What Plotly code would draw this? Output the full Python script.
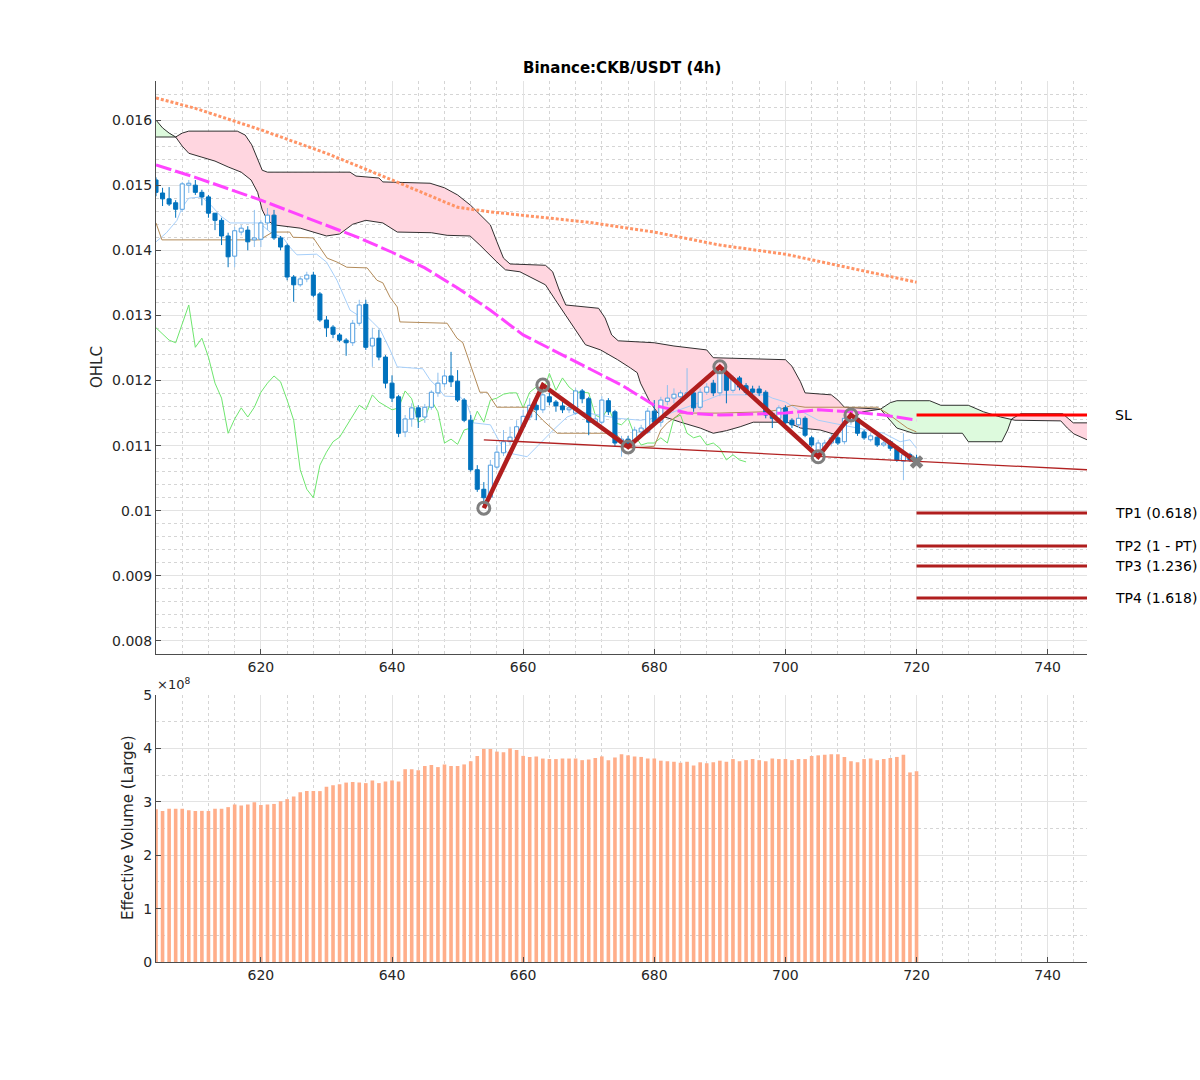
import numpy as np
import plotly.graph_objects as go

# ---------------- data ----------------
bar_x = list(range(604, 721))

opens = [0.01508,0.01488,0.01479,0.01473,0.01463,0.01500,0.01500,0.01489,0.01482,0.01457,
         0.01446,0.01422,0.01391,0.01428,0.01431,0.01416,0.01417,0.01442,0.01454,0.01419,
         0.01407,0.01359,0.01347,0.01356,0.01362,0.01333,0.01293,0.01282,0.01270,0.01262,
         0.01258,0.01288,0.01317,0.01253,0.01265,0.01236,0.01196,0.01175,0.01121,0.01141,
         0.01158,0.01144,0.01159,0.01181,0.01195,0.01207,0.01199,0.01170,0.01139,0.01063,
         0.01033,0.01021,0.01067,0.01089,0.01106,0.01112,0.01129,0.01144,0.01162,0.01155,
         0.01175,0.01167,0.01161,0.01155,0.01150,0.01184,0.01172,0.01136,0.01136,0.01169,
         0.01152,0.01104,0.01110,0.01107,0.01121,0.01121,0.01153,0.01136,0.01168,0.01173,
         0.01175,0.01178,0.01181,0.01159,0.01182,0.01196,0.01181,0.01211,0.01185,0.01204,
         0.01192,0.01187,0.01187,0.01182,0.01149,0.01142,0.01158,0.01139,0.01132,0.01142,
         0.01112,0.01090,0.01096,0.01104,0.01112,0.01106,0.01140,0.01142,0.01121,0.01109,
         0.01113,0.01101,0.01106,0.01096,0.01076,0.01086,0.01081]
highs = [0.01512,0.01496,0.01497,0.01477,0.01505,0.01508,0.01508,0.01493,0.01485,0.01457,
         0.01450,0.01427,0.01436,0.01439,0.01437,0.01462,0.01446,0.01465,0.01462,0.01422,
         0.01410,0.01362,0.01360,0.01367,0.01367,0.01336,0.01299,0.01285,0.01273,0.01265,
         0.01293,0.01324,0.01324,0.01281,0.01278,0.01239,0.01208,0.01178,0.01147,0.01165,
         0.01162,0.01164,0.01185,0.01212,0.01216,0.01244,0.01216,0.01173,0.01147,0.01070,
         0.01044,0.01078,0.01101,0.01124,0.01129,0.01139,0.01155,0.01173,0.01167,0.01193,
         0.01181,0.01170,0.01167,0.01162,0.01188,0.01187,0.01175,0.01147,0.01176,0.01173,
         0.01155,0.01115,0.01115,0.01129,0.01132,0.01158,0.01170,0.01175,0.01193,0.01188,
         0.01185,0.01219,0.01185,0.01188,0.01196,0.01201,0.01221,0.01216,0.01208,0.01207,
         0.01196,0.01192,0.01192,0.01185,0.01152,0.01162,0.01162,0.01142,0.01149,0.01145,
         0.01115,0.01109,0.01109,0.01118,0.01118,0.01147,0.01158,0.01145,0.01124,0.01119,
         0.01116,0.01109,0.01109,0.01099,0.01119,0.01089,0.01086]
lows = [0.01483,0.01468,0.01468,0.01450,0.01459,0.01488,0.01485,0.01469,0.01450,0.01431,
        0.01408,0.01374,0.01374,0.01423,0.01400,0.01405,0.01405,0.01431,0.01416,0.01400,
        0.01354,0.01321,0.01344,0.01351,0.01328,0.01290,0.01267,0.01265,0.01259,0.01238,
        0.01253,0.01284,0.01247,0.01221,0.01231,0.01188,0.01167,0.01113,0.01113,0.01129,
        0.01127,0.01135,0.01155,0.01175,0.01190,0.01190,0.01167,0.01136,0.01060,0.01029,
        0.01004,0.01017,0.01063,0.01084,0.01101,0.01109,0.01124,0.01139,0.01139,0.01150,
        0.01162,0.01152,0.01150,0.01150,0.01147,0.01165,0.01116,0.01132,0.01133,0.01147,
        0.01099,0.01083,0.01096,0.01101,0.01116,0.01118,0.01133,0.01129,0.01162,0.01165,
        0.01170,0.01173,0.01152,0.01155,0.01178,0.01176,0.01176,0.01165,0.01181,0.01185,
        0.01178,0.01179,0.01176,0.01142,0.01127,0.01139,0.01130,0.01127,0.01127,0.01113,
        0.01098,0.01084,0.01093,0.01099,0.01101,0.01102,0.01132,0.01115,0.01109,0.01106,
        0.01098,0.01098,0.01092,0.01075,0.01047,0.01075,0.01070]
closes = [0.01489,0.01479,0.01471,0.01463,0.01502,0.01503,0.01489,0.01482,0.01457,0.01446,
          0.01422,0.01390,0.01430,0.01434,0.01413,0.01419,0.01442,0.01454,0.01419,0.01405,
          0.01359,0.01347,0.01356,0.01362,0.01331,0.01293,0.01281,0.01271,0.01262,0.01258,
          0.01288,0.01316,0.01251,0.01265,0.01236,0.01196,0.01173,0.01119,0.01141,0.01158,
          0.01144,0.01159,0.01182,0.01196,0.01207,0.01198,0.01170,0.01139,0.01063,0.01033,
          0.01020,0.01070,0.01090,0.01106,0.01113,0.01129,0.01145,0.01162,0.01155,0.01178,
          0.01167,0.01161,0.01155,0.01158,0.01184,0.01172,0.01136,0.01141,0.01170,0.01152,
          0.01104,0.01110,0.01102,0.01124,0.01127,0.01153,0.01136,0.01170,0.01173,0.01179,
          0.01181,0.01181,0.01158,0.01182,0.01190,0.01181,0.01211,0.01185,0.01204,0.01190,
          0.01182,0.01182,0.01181,0.01147,0.01142,0.01158,0.01135,0.01132,0.01142,0.01116,
          0.01101,0.01104,0.01104,0.01112,0.01104,0.01142,0.01147,0.01119,0.01112,0.01115,
          0.01101,0.01104,0.01096,0.01078,0.01086,0.01078,0.01075]

volume = [2.86,2.83,2.87,2.87,2.87,2.84,2.83,2.83,2.83,2.87,
          2.87,2.90,2.95,2.93,2.95,2.99,2.94,2.95,2.96,3.01,
          3.05,3.10,3.18,3.20,3.20,3.20,3.28,3.31,3.33,3.36,
          3.37,3.36,3.35,3.40,3.35,3.38,3.40,3.38,3.61,3.61,
          3.59,3.67,3.69,3.65,3.70,3.67,3.67,3.70,3.76,3.86,
          3.99,3.99,3.94,3.93,4.00,3.97,3.86,3.84,3.85,3.81,
          3.80,3.80,3.81,3.81,3.81,3.78,3.79,3.82,3.85,3.78,
          3.83,3.89,3.87,3.85,3.84,3.81,3.81,3.77,3.76,3.75,
          3.73,3.75,3.68,3.74,3.72,3.74,3.77,3.75,3.80,3.76,
          3.78,3.80,3.78,3.76,3.81,3.80,3.80,3.78,3.80,3.80,
          3.86,3.87,3.88,3.89,3.89,3.84,3.76,3.74,3.80,3.81,
          3.78,3.80,3.82,3.84,3.88,3.55,3.57]  # x 1e8

span_a_x = [604,605,606,607,608,609,611,613,615,617,618.5,619.5,620.2,621,622,626,630,632,634,636,
            638.6,640.8,646,648.4,651.9,653.4,656,657.3,659.5,663.4,664.9,666.4,667.9,669.5,671.8,
            674.4,676.4,677.4,677.9,679,679.4,680.4,681,684,687,689,691,693.1,695.1,700.3,702.3,
            705.3,707.3,708.9,710.4,711.8,714.5,716,717,722,723.7,727.9,730.2,732.8,734.5,735,
            742,743,744,746]
span_a_y = [0.01600,0.01588,0.01580,0.01574,0.01560,0.01549,0.01543,0.01537,0.01528,0.01520,
            0.01508,0.01489,0.01462,0.01446,0.01439,0.01434,0.01422,0.01425,0.01440,0.01446,
            0.01442,0.01428,0.01427,0.01423,0.01422,0.01408,0.01382,0.01370,0.01367,0.01347,
            0.01324,0.01301,0.01278,0.01255,0.01247,0.01232,0.01219,0.01212,0.01196,0.01175,
            0.01166,0.01152,0.01146,0.01136,0.01127,0.01119,0.01123,0.01129,0.01136,0.01136,
            0.01127,0.01124,0.01118,0.01129,0.01144,0.01152,0.01156,0.01166,0.01169,0.01169,
            0.01162,0.01162,0.01152,0.01144,0.01141,0.01139,0.01138,0.01127,0.01118,0.01109]
span_b_x = [604,607,608,609,616.4,617.6,618.6,619.5,620.2,621,633.6,634.5,638,638.6,645.8,648,650,
            652,653.5,655,656,657,658,663.4,664.5,665.5,666.5,671.5,672.5,673.5,674.5,680,683,688,
            689,700,701,702.3,703,707,708,709,714.5,715,716,717,719.5,727,727.9,733,733.9,734.5,
            735.9,742.3,743.1,743.9,746]
span_b_y = [0.01574,0.01574,0.01580,0.01583,0.01583,0.01577,0.01562,0.01539,0.01523,0.01520,
            0.01520,0.01514,0.01511,0.01505,0.01503,0.01496,0.01485,0.01469,0.01454,0.01439,
            0.01413,0.01388,0.01379,0.01377,0.01367,0.01339,0.01316,0.01311,0.01296,0.01270,
            0.01261,0.01258,0.01253,0.01247,0.01235,0.01232,0.01222,0.01198,0.01181,0.01178,
            0.01170,0.01159,0.01156,0.01150,0.01139,0.01127,0.01119,0.01119,0.01106,0.01106,
            0.01124,0.01141,0.01149,0.01149,0.01142,0.01135,0.01135]
pink_ranges = [(607, 714.5), (734.5, 746)]
green_ranges = [(604, 607), (714.5, 734.5)]

tenkan_x = [604,605.6,607.2,608,609,611,612.7,613.7,615.3,619.8,621.4,623.4,624.4,625.5,628.5,630,
            631.6,633.6,634.7,636.2,637,638.2,639.7,640.8,644.7,645.8,646.9,648,650.4,651.5,652.4,
            655,656.5,657.6,660.6,662.6,664.6,666.7,668.7,674.4,677.9,681,683,688,690,697,698,700,
            702,705,710,712.5,715,717.5,719,720]
tenkan_y = [0.01413,0.01427,0.01446,0.01466,0.01480,0.01482,0.01466,0.01454,0.01442,0.01442,
            0.01428,0.01419,0.01405,0.01393,0.01394,0.01382,0.01354,0.01308,0.01301,0.01298,
            0.01290,0.01278,0.01247,0.01221,0.01218,0.01201,0.01190,0.01176,0.01175,0.01162,
            0.01135,0.01132,0.01104,0.01089,0.01083,0.01104,0.01124,0.01144,0.01152,0.01142,
            0.01139,0.01144,0.01152,0.01170,0.01178,0.01178,0.01173,0.01167,0.01155,0.01139,
            0.01129,0.01124,0.01119,0.01106,0.01109,0.01096]
kijun_x = [604,604.9,619.8,621.8,624.4,624.9,628,630.1,631.6,633.1,636.2,637.7,638.6,639.7,640.8,
           641.2,648.4,649.9,650.8,652.4,653.4,654.5,656,660.6,661.8,663,664.6,665.2,674,675,676,
           680,681,682,683,684,690,697,699,701,703,714,715.5,717,718.6,720]
kijun_y = [0.01442,0.01416,0.01416,0.01428,0.01428,0.01420,0.01419,0.01388,0.01382,0.01374,
           0.01373,0.01354,0.01350,0.01328,0.01313,0.01290,0.01288,0.01265,0.01258,0.01212,
           0.01182,0.01182,0.01159,0.01159,0.01152,0.01139,0.01124,0.01119,0.01119,0.01109,
           0.01096,0.01099,0.01124,0.01135,0.01142,0.01150,0.01150,0.01152,0.01155,0.01162,
           0.01159,0.01159,0.01150,0.01139,0.01127,0.01121]
chikou_shift = 26

ma_slow_x = [604,610,620,630,640,650,655,660,670,680,690,700,710,720]
ma_slow_y = [0.01634,0.01618,0.01585,0.01549,0.01508,0.01466,0.01459,0.01454,0.01443,0.01428,
             0.01408,0.01394,0.01373,0.01351]
ma_fast_x = [604,610,620,628,635,640,645,650,655,660,665,670,675,680,685,690,700,705,710,715,720]
ma_fast_y = [0.01531,0.01512,0.01477,0.01446,0.01419,0.01397,0.01373,0.01342,0.01308,0.01270,
             0.01244,0.01219,0.01193,0.01162,0.01150,0.01147,0.01150,0.01155,0.01152,0.01147,0.01139]

pivot_x = [654, 663, 676, 690, 705, 710, 720]
pivot_y = [0.01004, 0.01193, 0.01098, 0.01221, 0.01083, 0.01147, 0.01075]
trend_x = [654, 746]
trend_y = [0.01109, 0.01063]

level_names = ["SL", "TP1 (0.618)", "TP2 (1 - PT)", "TP3 (1.236)", "TP4 (1.618)"]
level_vals = [0.01147, 0.009965, 0.00946, 0.00915, 0.00866]
level_x = [720, 746]

ohlc_ticks = [0.008, 0.009, 0.010, 0.011, 0.012, 0.013, 0.014, 0.015, 0.016]
ohlc_ticktext = ["0.008", "0.009", "0.01", "0.011", "0.012", "0.013", "0.014", "0.015", "0.016"]
vol_ticks = [0, 1, 2, 3, 4, 5]

# ---------------- figure ----------------
FONT = "DejaVu Sans"
TXT = "#262626"
UP_EDGE = "#4F9DE0"
UP_WICK = "#8EC0EE"
DN = "#0072BD"
HALF_W = 0.31
fig = go.Figure()


def band(lo, hi, color):
    bx = [a for a in span_b_x if lo <= a <= hi]
    by = [b for a, b in zip(span_b_x, span_b_y) if lo <= a <= hi]
    ax = [a for a in span_a_x if lo <= a <= hi][::-1]
    ay = [b for a, b in zip(span_a_x, span_a_y) if lo <= a <= hi][::-1]
    fig.add_trace(go.Scatter(x=bx + ax, y=by + ay, fill="toself", fillcolor=color,
                             line=dict(width=0), mode="lines", hoverinfo="skip",
                             showlegend=False, xaxis="x", yaxis="y"))


for lo, hi in pink_ranges:
    band(lo, hi, "#FFD6E0")
for lo, hi in green_ranges:
    band(lo, hi, "#DDFADD")

for sx, sy in [(span_a_x, span_a_y), (span_b_x, span_b_y)]:
    fig.add_trace(go.Scatter(x=sx, y=sy, mode="lines", line=dict(color="#1a1a1a", width=0.9),
                             showlegend=False, xaxis="x", yaxis="y"))

# chikou span: closes shifted back
fig.add_trace(go.Scatter(x=bar_x[:-chikou_shift], y=closes[chikou_shift:], mode="lines",
                         line=dict(color="#6EE66E", width=1), showlegend=False, xaxis="x", yaxis="y"))
fig.add_trace(go.Scatter(x=tenkan_x, y=tenkan_y, mode="lines",
                         line=dict(color="#A6CFFA", width=1), showlegend=False, xaxis="x", yaxis="y"))
fig.add_trace(go.Scatter(x=kijun_x, y=kijun_y, mode="lines",
                         line=dict(color="#B38B59", width=1), showlegend=False, xaxis="x", yaxis="y"))

# ---- candles: wicks then bodies (as scatter polygons so they sit above the cloud) ----
up = [c >= o for o, c in zip(opens, closes)]
for is_up, wick_col, edge_col, fill_col in [(True, UP_WICK, UP_EDGE, "white"), (False, DN, DN, DN)]:
    wx, wy, bx, by = [], [], [], []
    for xi, o, h, l, c, u in zip(bar_x, opens, highs, lows, closes, up):
        if u != is_up:
            continue
        wx += [xi, xi, None]
        wy += [l, h, None]
        lo_b, hi_b = min(o, c), max(o, c)
        if hi_b - lo_b < 0.00002:
            mid = (hi_b + lo_b) / 2
            lo_b, hi_b = mid - 0.00001, mid + 0.00001
        bx += [xi - HALF_W, xi + HALF_W, xi + HALF_W, xi - HALF_W, xi - HALF_W, None]
        by += [lo_b, lo_b, hi_b, hi_b, lo_b, None]
    fig.add_trace(go.Scatter(x=wx, y=wy, mode="lines", line=dict(color=wick_col, width=1),
                             showlegend=False, hoverinfo="skip", xaxis="x", yaxis="y"))
    fig.add_trace(go.Scatter(x=bx, y=by, mode="lines", fill="toself", fillcolor=fill_col,
                             line=dict(color=edge_col, width=1), showlegend=False,
                             hoverinfo="skip", xaxis="x", yaxis="y"))

fig.add_trace(go.Scatter(x=ma_slow_x, y=ma_slow_y, mode="lines",
                         line=dict(color="#FF9466", width=3, dash="3px,2px"), showlegend=False,
                         xaxis="x", yaxis="y"))
fig.add_trace(go.Scatter(x=ma_fast_x, y=ma_fast_y, mode="lines",
                         line=dict(color="#FF44FF", width=3, dash="16px,4px"), showlegend=False,
                         xaxis="x", yaxis="y"))

fig.add_trace(go.Scatter(x=trend_x, y=trend_y, mode="lines", line=dict(color="#B22222", width=1.3),
                         showlegend=False, xaxis="x", yaxis="y"))
fig.add_trace(go.Scatter(x=pivot_x, y=pivot_y, mode="lines", line=dict(color="#B01E1E", width=4.5),
                         showlegend=False, xaxis="x", yaxis="y"))
fig.add_trace(go.Scatter(x=pivot_x[:-1], y=pivot_y[:-1], mode="markers",
                         marker=dict(symbol="circle-open", size=12, color="#7F7F7F",
                                     line=dict(width=3, color="#7F7F7F")),
                         showlegend=False, xaxis="x", yaxis="y"))
fig.add_trace(go.Scatter(x=pivot_x[-1:], y=pivot_y[-1:], mode="markers",
                         marker=dict(symbol="x", size=12, color="#7F7F7F"),
                         showlegend=False, xaxis="x", yaxis="y"))

for name, val in zip(level_names, level_vals):
    col = "#FF0000" if name == "SL" else "#B01E1E"
    fig.add_trace(go.Scatter(x=level_x, y=[val, val], mode="lines", line=dict(color=col, width=3),
                             showlegend=False, xaxis="x", yaxis="y"))
    fig.add_annotation(x=1113 / 1200, xref="paper", y=val, yref="y", text=name, showarrow=False,
                       xanchor="left", yanchor="middle", font=dict(family=FONT, size=14, color="black"))

fig.add_trace(go.Bar(x=bar_x, y=[v * 1e8 for v in volume], width=0.55,
                     marker=dict(color="#FFAE8A", line=dict(width=0)),
                     showlegend=False, xaxis="x2", yaxis="y2"))

XDOM = [156 / 1200, 1087 / 1200]
common_x = dict(range=[604, 746], tickvals=[620, 640, 660, 680, 700, 720, 740], ticks="inside",
                ticklen=5, tickcolor="#4d4d4d", showline=True, linecolor="#4d4d4d", linewidth=1,
                showgrid=True, gridcolor="#E3E3E3", gridwidth=1, zeroline=False,
                tickfont=dict(family=FONT, size=14, color=TXT), domain=XDOM,
                minor=dict(dtick=4, tick0=604, showgrid=True, gridcolor="#D5D5D5", griddash="dot",
                           ticks=""))
fig.update_layout(
    width=1200, height=1080, margin=dict(l=0, r=0, t=0, b=0, pad=0, autoexpand=False),
    paper_bgcolor="white", plot_bgcolor="white", showlegend=False, barmode="overlay",
    xaxis=dict(anchor="y", **common_x),
    xaxis2=dict(anchor="y2", **common_x),
    yaxis=dict(anchor="x", domain=[1 - 654 / 1080, 1 - 81 / 1080], range=[0.0078, 0.0166],
               tickvals=ohlc_ticks, ticktext=ohlc_ticktext, ticks="inside", ticklen=5,
               tickcolor="#4d4d4d", showline=True, linecolor="#4d4d4d", linewidth=1,
               showgrid=True, gridcolor="#E3E3E3", zeroline=False,
               tickfont=dict(family=FONT, size=14, color=TXT),
               minor=dict(dtick=0.0002, tick0=0.008, showgrid=True, gridcolor="#D5D5D5",
                          griddash="dot", ticks="")),
    yaxis2=dict(anchor="x2", domain=[1 - 962 / 1080, 1 - 695 / 1080], range=[0, 5e8],
                tickvals=[v * 1e8 for v in vol_ticks], ticktext=[str(v) for v in vol_ticks],
                ticks="inside", ticklen=5, tickcolor="#4d4d4d", showline=True,
                linecolor="#4d4d4d", linewidth=1, showgrid=True, gridcolor="#E3E3E3",
                zeroline=False, tickfont=dict(family=FONT, size=14, color=TXT),
                minor=dict(dtick=0.5e8, tick0=0, showgrid=True, gridcolor="#D5D5D5",
                           griddash="dot", ticks="")),
    font=dict(family=FONT, color=TXT),
)

fig.add_annotation(x=621.5 / 1200, y=1 - 68 / 1080, xref="paper", yref="paper",
                   text="<b>Binance:CKB/USDT (4h)</b>", showarrow=False,
                   font=dict(family=FONT, size=15, color="black"), xanchor="center", yanchor="middle")
fig.add_annotation(x=97 / 1200, y=1 - 367 / 1080, xref="paper", yref="paper", text="OHLC",
                   textangle=-90, showarrow=False, font=dict(family=FONT, size=15, color=TXT),
                   xanchor="center", yanchor="middle")
fig.add_annotation(x=128 / 1200, y=1 - 828 / 1080, xref="paper", yref="paper",
                   text="Effective Volume (Large)", textangle=-90, showarrow=False,
                   font=dict(family=FONT, size=15, color=TXT), xanchor="center", yanchor="middle")
fig.add_annotation(x=155 / 1200, y=1 - 694 / 1080, xref="paper", yref="paper",
                   text="×10<sup>8</sup>", showarrow=False,
                   font=dict(family=FONT, size=13, color=TXT), xanchor="left", yanchor="bottom")

fig.write_html("out.html")
